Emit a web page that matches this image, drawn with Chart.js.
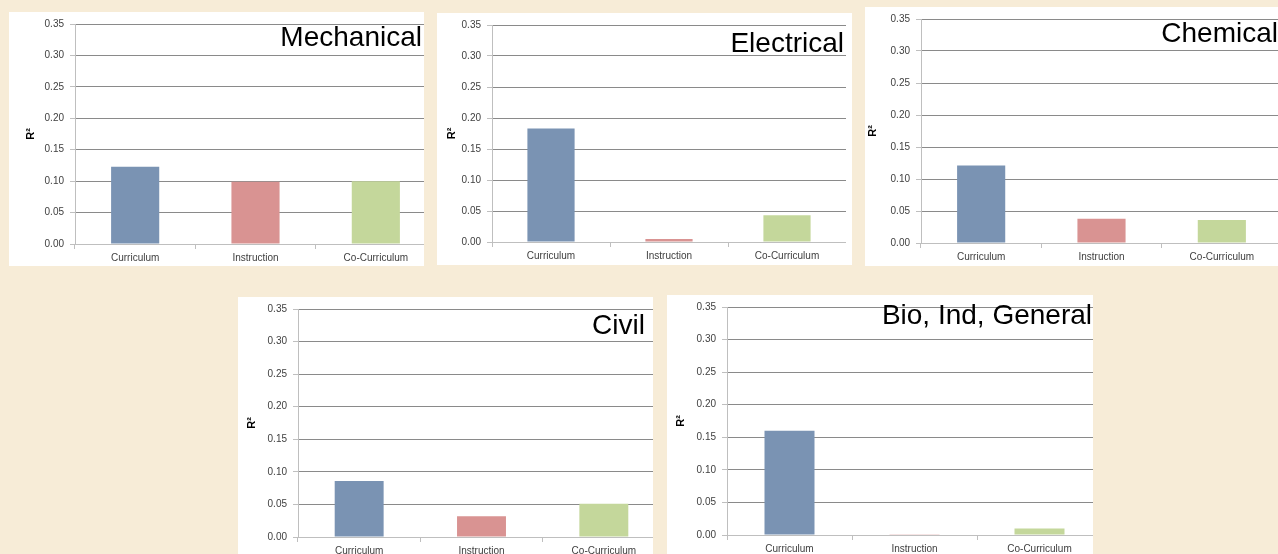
<!DOCTYPE html>
<html>
<head>
<meta charset="utf-8">
<script src="https://cdn.jsdelivr.net/npm/chart.js@4.4.1/dist/chart.umd.min.js"></script>
<style>
  body { margin: 0; width: 1278px; height: 554px; overflow: hidden; position: relative;
         background: #f7ecd7; font-family: "Liberation Sans", Arial, sans-serif; }
  .panel { position: absolute; background: #fff; overflow: hidden; }
  .panel canvas { position: absolute; left: 0; top: 0; }
  .ttl { position: absolute; font-size: 28px; line-height: 1; color: #000; white-space: nowrap; }
</style>
</head>
<body>
<div id="wrap"></div>
<script>
// data
const categories = ['Curriculum', 'Instruction', 'Co-Curriculum'];
const mechanical = [0.123, 0.099, 0.100];
const electrical = [0.183, 0.005, 0.043];
const chemical   = [0.121, 0.038, 0.036];
const civil      = [0.086, 0.032, 0.051];
const bioIndGen  = [0.160, 0.001, 0.010];
const panelTitles = ['Mechanical', 'Electrical', 'Chemical', 'Civil', 'Bio, Ind, General'];
const panelValues = [mechanical, electrical, chemical, civil, bioIndGen];

const barColors = ['#7a93b3', '#d99392', '#c4d79b'];

// panel boxes and plot geometry (px)
const layoutBoxes = [
  { left: 9,   top: 12,  w: 415, h: 254, axis: 66, pTop: 10, pBottom: 232, cw: 427, ch: 254, yTitle: 15, tTop: 11, tRight: 2 },
  { left: 437, top: 13,  w: 415, h: 252, axis: 55, pTop: 11, pBottom: 229, cw: 409, ch: 252, yTitle: 8,  tTop: 16, tRight: 8 },
  { left: 865, top: 7,   w: 413, h: 259, axis: 56, pTop: 12, pBottom: 236, cw: 417, ch: 259, yTitle: 1,  tTop: 12, tRight: 0 },
  { left: 238, top: 297, w: 415, h: 257, axis: 60, pTop: 11, pBottom: 240, cw: 427, ch: 262, yTitle: 7,  tTop: 14, tRight: 8 },
  { left: 667, top: 295, w: 426, h: 259, axis: 60, pTop: 8,  pBottom: 240, cw: 435, ch: 262, yTitle: 7,  tTop: 6,  tRight: 1 }
];

const wrap = document.getElementById('wrap');

layoutBoxes.forEach((g, i) => {
  const box = document.createElement('div');
  box.className = 'panel';
  box.style.cssText = `left:${g.left}px;top:${g.top}px;width:${g.w}px;height:${g.h}px`;
  const canvas = document.createElement('canvas');
  canvas.width = g.cw;
  canvas.height = g.ch;
  box.appendChild(canvas);
  const ttl = document.createElement('div');
  ttl.className = 'ttl';
  ttl.style.top = g.tTop + 'px';
  ttl.style.right = g.tRight + 'px';
  ttl.textContent = panelTitles[i];
  box.appendChild(ttl);
  wrap.appendChild(box);

  new Chart(canvas.getContext('2d'), {
    type: 'bar',
    data: {
      labels: categories,
      datasets: [{
        data: panelValues[i],
        backgroundColor: barColors,
        borderWidth: 0,
        barPercentage: 0.4,
        categoryPercentage: 1
      }]
    },
    options: {
      responsive: false,
      animation: false,
      layout: { padding: { top: g.pTop, right: 0, bottom: 0, left: 0 } },
      plugins: { legend: { display: false }, tooltip: { enabled: false } },
      scales: {
        x: {
          grid: { drawOnChartArea: false, color: '#bfbfbf', tickLength: 5, offset: true },
          border: { color: '#bfbfbf' },
          ticks: { color: '#404040', font: { size: 10 }, padding: 3, maxRotation: 0 },
          afterFit: s => { s.height = g.ch - g.pBottom; }
        },
        y: {
          min: 0,
          max: 0.35,
          z: 1,
          ticks: { stepSize: 0.05, color: '#404040', font: { size: 10 }, padding: 6,
                   callback: v => v.toFixed(2) },
          grid: { color: '#8a8a8a', tickColor: '#bfbfbf', tickLength: 5 },
          border: { color: '#bfbfbf' },
          title: { display: true, text: 'R²', color: '#000',
                   font: { size: 11, weight: 'bold' }, padding: { top: g.yTitle, bottom: 0 } },
          afterFit: s => { s.width = g.axis; }
        }
      }
    }
  });
});
</script>
</body>
</html>
